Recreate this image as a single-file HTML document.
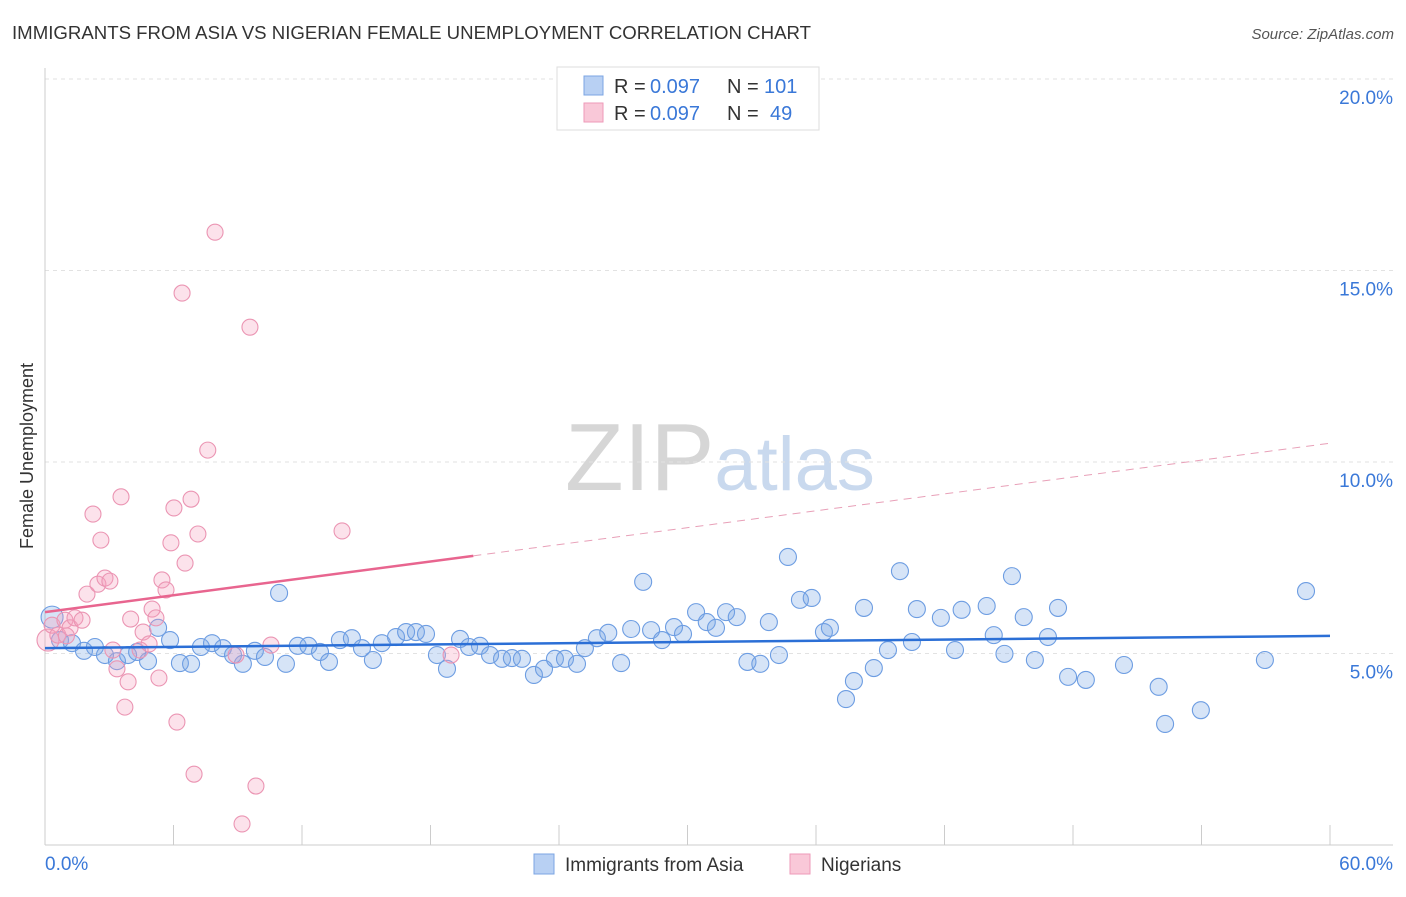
<!DOCTYPE html>
<html><head><meta charset="utf-8">
<style>
body{margin:0;background:#fff;font-family:"Liberation Sans",sans-serif;}
svg text{font-family:"Liberation Sans",sans-serif;}
</style></head>
<body>
<svg id="chart" width="1406" height="892" xmlns="http://www.w3.org/2000/svg">
<text x="12" y="39" font-size="18" fill="#333" textLength="799" lengthAdjust="spacingAndGlyphs">IMMIGRANTS FROM ASIA VS NIGERIAN FEMALE UNEMPLOYMENT CORRELATION CHART</text>
<text x="1394" y="39" font-size="15" fill="#555" text-anchor="end" font-style="italic">Source: ZipAtlas.com</text>
<text x="720" y="490" font-size="96" text-anchor="middle" fill="#d8d8d8" font-family="Liberation Serif"><tspan fill="#d6d6d6">ZIP</tspan><tspan fill="#c9d9ee" font-family="Liberation Sans" font-size="76">atlas</tspan></text>
<g id="grid"></g>
<g id="axes"></g>
<g id="points"></g>
<g id="trends"></g>
<text transform="translate(33,456) rotate(-90)" font-size="18" fill="#333" text-anchor="middle">Female Unemployment</text>
<g>
<rect x="557" y="67" width="262" height="63" fill="#fff" stroke="#ddd"/>
<rect x="584" y="76" width="19" height="19" fill="#b8d0f3" stroke="#7ba5e3"/>
<rect x="584" y="103" width="19" height="19" fill="#f9c8d8" stroke="#ee9ab8"/>
<text x="614" y="93" font-size="20" fill="#333">R =</text>
<text x="650" y="93" font-size="20" fill="#3a78d8">0.097</text>
<text x="727" y="93" font-size="20" fill="#333">N =</text>
<text x="764" y="93" font-size="20" fill="#3a78d8">101</text>
<text x="614" y="120" font-size="20" fill="#333">R =</text>
<text x="650" y="120" font-size="20" fill="#3a78d8">0.097</text>
<text x="727" y="120" font-size="20" fill="#333">N =</text>
<text x="770" y="120" font-size="20" fill="#3a78d8">49</text>
</g>
<g>
<rect x="534" y="854" width="20" height="20" fill="#b8d0f3" stroke="#7ba5e3"/>
<text x="565" y="871" font-size="19" fill="#333">Immigrants from Asia</text>
<rect x="790" y="854" width="20" height="20" fill="#f9c8d8" stroke="#ee9ab8"/>
<text x="821" y="871" font-size="19" fill="#333">Nigerians</text>
</g>
</svg>
<script>
const blueX=[0.33,0.7,1.26,1.82,2.33,2.8,3.36,3.88,4.3,4.81,5.28,5.84,6.3,6.82,7.28,7.8,8.31,8.78,9.24,9.8,10.27,10.93,11.25,11.8,12.3,12.84,13.26,13.77,14.33,14.8,15.31,15.73,16.39,16.86,17.32,17.79,18.3,18.77,19.38,19.8,20.31,20.78,21.34,21.8,22.27,22.83,23.3,23.81,24.28,24.84,25.21,25.77,26.3,26.9,27.37,27.93,28.3,28.81,29.37,29.79,30.4,30.9,31.33,31.8,32.3,32.8,33.4,33.8,34.27,34.69,35.25,35.8,36.37,36.65,37.4,37.77,38.24,38.7,39.36,39.92,40.48,40.71,41.83,42.49,42.8,43.97,44.3,44.8,45.15,45.7,46.22,46.83,47.3,47.77,48.6,50.38,52.0,52.3,53.97,56.96,58.88];
const blueY=[5.95,5.35,5.27,5.07,5.17,4.96,4.8,4.96,5.04,4.8,5.67,5.35,4.75,4.73,5.17,5.27,5.14,4.96,4.73,5.07,4.91,6.58,4.73,5.2,5.2,5.04,4.78,5.35,5.4,5.14,4.83,5.27,5.43,5.56,5.56,5.51,4.96,4.6,5.38,5.17,5.2,4.96,4.86,4.88,4.86,4.44,4.6,4.86,4.86,4.73,5.14,5.4,5.54,4.75,5.64,6.87,5.61,5.35,5.69,5.51,6.08,5.82,5.67,6.08,5.95,4.78,4.73,5.82,4.96,7.52,6.4,6.45,5.56,5.67,3.81,4.28,6.19,4.62,5.09,7.15,5.3,6.16,5.93,5.09,6.14,6.24,5.48,4.99,7.02,5.95,4.83,5.43,6.19,4.39,4.31,4.7,4.13,3.16,3.52,4.83,6.63];
const pinkX=[0.14,0.33,0.6,0.93,1.17,1.0,1.4,1.73,1.96,2.24,2.47,2.61,2.8,3.03,3.17,3.36,3.55,3.73,3.88,4.0,4.44,4.58,4.86,5.0,5.18,5.32,5.46,5.65,5.88,6.02,6.16,6.4,6.54,6.82,6.96,7.14,7.6,7.94,8.92,9.2,9.57,9.85,10.55,13.87,18.96];
const pinkY=[5.35,5.74,5.48,5.87,5.67,5.46,5.93,5.87,6.55,8.64,6.81,7.96,6.97,6.89,5.09,4.6,9.09,3.6,4.26,5.9,5.09,5.56,5.25,6.16,5.93,4.36,6.92,6.66,7.89,8.8,3.21,14.41,7.36,9.03,1.85,8.12,10.31,16.0,4.96,0.55,13.52,1.54,5.22,8.2,4.96];
const blueTrend=[5.14,5.46];
const pinkTrend=[6.08,10.49];
const pinkSolidEnd=20;
const yTicks=[5,10,15,20];
const xTickLabels=["0.0%","60.0%"];
const NS="http://www.w3.org/2000/svg";
const sx=v=>45+v/60*1285;
const sy=v=>845-v/5*191.5;
function mk(tag,attrs,parent){const e=document.createElementNS(NS,tag);for(const k in attrs)e.setAttribute(k,attrs[k]);document.getElementById(parent).appendChild(e);return e;}
yTicks.forEach(t=>{
 const l=mk('line',{x1:45,x2:1393,y1:sy(t),y2:sy(t),stroke:'#e2e2e2','stroke-dasharray':'4,4'},'grid');
 
 
 const tx=mk('text',{x:1393,y:sy(t)+25,'font-size':19,fill:'#3a78d8','text-anchor':'end'},'axes');
 tx.textContent=t.toFixed(1)+'%';
 
 
});
const ya=mk('line',{x1:45,x2:45,y1:68,y2:845,stroke:'#ccc'},'axes');


const xa=mk('line',{x1:45,x2:1393,y1:845,y2:845,stroke:'#ccc'},'axes');


for(let i=0;i<=10;i++){
 const tk=mk('line',{x1:sx(i*6),x2:sx(i*6),y1:825,y2:845,stroke:'#ccc'},'axes');
 
 
}
[[0,'start',xTickLabels[0]],[60,'end',xTickLabels[1]]].forEach(([v,a,s],i)=>{
 const tx=mk('text',{x:i?1393:45,y:870,'font-size':19,fill:'#3a78d8','text-anchor':a},'axes');
 tx.textContent=s;
 
 
});
blueX.forEach((x,i)=>{
 const c=mk('circle',{cx:sx(x),cy:sy(blueY[i]),r:i===0?11:8.5,fill:'rgba(120,165,230,0.3)',stroke:'#6d9de2','stroke-width':1.1},'points');
 
 
});
pinkX.forEach((x,i)=>{
 const c=mk('circle',{cx:sx(x),cy:sy(pinkY[i]),r:i===0?11:8,fill:'rgba(245,160,190,0.3)',stroke:'#eb95b3','stroke-width':1.1},'points');
 
 
});
const pAt=v=>pinkTrend[0]+(pinkTrend[1]-pinkTrend[0])*v/60;
const bl=mk('line',{x1:sx(0),y1:sy(blueTrend[0]),x2:sx(60),y2:sy(blueTrend[1]),stroke:'#2b6fd6','stroke-width':2.5},'trends');


const pl=mk('line',{x1:sx(0),y1:sy(pAt(0)),x2:sx(pinkSolidEnd),y2:sy(pAt(pinkSolidEnd)),stroke:'#e8658f','stroke-width':2.5},'trends');


const pd=mk('line',{x1:sx(pinkSolidEnd),y1:sy(pAt(pinkSolidEnd)),x2:sx(60),y2:sy(pAt(60)),stroke:'#e8a0b8','stroke-width':1,'stroke-dasharray':'8,6'},'trends');


</script>
</body></html>
